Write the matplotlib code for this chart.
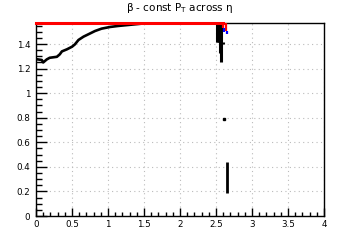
import numpy as np
import matplotlib
matplotlib.use('Agg')
import matplotlib.pyplot as plt
from matplotlib.ticker import MultipleLocator

# main black curve (beta vs eta)
eta = [0.0, 0.08, 0.10, 0.15, 0.19, 0.29, 0.33, 0.36, 0.43, 0.50, 0.54, 0.59,
       0.66, 0.73, 0.82, 0.91, 1.03, 1.14, 1.28, 1.47]
beta = [1.277, 1.27, 1.25, 1.275, 1.288, 1.296, 1.316, 1.34, 1.357, 1.378, 1.397, 1.433,
        1.46, 1.48, 1.506, 1.525, 1.539, 1.547, 1.555, 1.566]

# black spike segments near eta ~2.55
spike_eta = [2.515, 2.53, 2.545, 2.56, 2.575, 2.595]
spike_lo = [1.42, 1.42, 1.42, 1.33, 1.255, 1.40]
spike_hi = [1.57, 1.56, 1.57, 1.55, 1.57, 1.42]

# red / blue short segments
red_eta = [2.60, 2.645]
red_lo = [1.53, 1.51]
red_hi = [1.57, 1.57]
blue_eta = [2.61, 2.65]
blue_lo = [1.50, 1.48]
blue_hi = [1.53, 1.51]

# isolated low values
pt_eta = [2.61]
pt_beta = [0.79]
bar_eta = [2.655]
bar_lo = [0.19]
bar_hi = [0.437]

red_level = np.pi / 2
red_end = 2.60

fig = plt.figure(figsize=(3.6, 2.4), dpi=100)
ax = fig.add_axes([0.1, 0.1, 0.8, 0.804])

ax.plot(eta, beta, color='black', lw=1.9, solid_capstyle='butt')
ax.vlines(spike_eta, spike_lo, spike_hi, color='black', lw=2.2)
ax.vlines(bar_eta, bar_lo, bar_hi, color='black', lw=2.0)
ax.plot(pt_eta, pt_beta, 's', color='black', ms=2)
ax.plot([0, red_end], [red_level, red_level], color='#ff0000', lw=2.2, clip_on=False, zorder=5)
ax.vlines(red_eta, red_lo, red_hi, color='#ff0000', lw=1.6, zorder=5)
ax.vlines(blue_eta, blue_lo, blue_hi, color='#0000ff', lw=1.6, zorder=5)

ax.set_xlim(0, 4)
ax.set_ylim(0, np.pi / 2)
ax.xaxis.set_minor_locator(MultipleLocator(0.1))
ax.yaxis.set_minor_locator(MultipleLocator(0.05))
ax.set_xticks([0, 0.5, 1, 1.5, 2, 2.5, 3, 3.5, 4])
ax.set_xticklabels(['0', '0.5', '1', '1.5', '2', '2.5', '3', '3.5', '4'])
ax.set_yticks([0, 0.2, 0.4, 0.6, 0.8, 1, 1.2, 1.4])
ax.set_yticklabels(['0', '0.2', '0.4', '0.6', '0.8', '1', '1.2', '1.4'])

ax.tick_params(which='both', direction='in', top=False, right=False, labelsize=6.3, width=1)
ax.tick_params(axis='y', which='major', length=8, pad=4)
ax.tick_params(axis='y', which='minor', length=4)
ax.tick_params(axis='x', which='major', length=6, pad=3)
ax.tick_params(axis='x', which='minor', length=3)
ax.grid(True, which='major', linestyle=(0, (1, 3)), color='#bbbbbb', lw=0.8)
for s in ax.spines.values():
    s.set_linewidth(1)

fig.text(0.5, 0.965, 'β - const P$_{\\mathregular{T}}$ across η', ha='center', va='center', fontsize=7.5)

plt.savefig('out.png', dpi=100)
